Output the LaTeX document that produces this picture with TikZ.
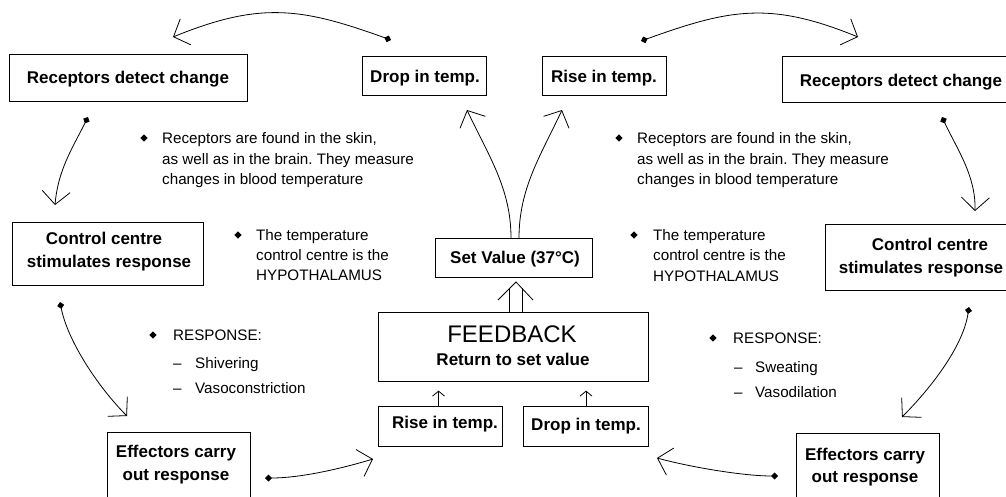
\documentclass[tikz,border=0pt]{standalone}
\usepackage{fontspec}
\setmainfont{Liberation Sans}
\usetikzlibrary{arrows.meta,calc}
\frenchspacing
\begin{document}
\begin{tikzpicture}[x=1pt,y=-1pt,
  box/.style={draw=black, line width=1.1pt, inner sep=0pt, anchor=north west},
  btxt/.style={font=\fontsize{17}{20}\selectfont\bfseries, inner sep=0pt, anchor=base},
  bigtxt/.style={font=\fontsize{24}{28}\selectfont, inner sep=0pt, anchor=base},
  rtxt/.style={font=\fontsize{15.2}{18}\selectfont, inner sep=0pt, anchor=base west},
  bul/.style={fill=black, inner sep=0pt, minimum size=5.2pt, rotate=45},
  conn/.style={line width=0.8pt, {Diamond[length=7pt,width=7pt]}-{Straight Barb[length=13pt,width=28pt]}},
  upconn/.style={line width=0.8pt, -{Straight Barb[length=13pt,width=28pt]}},
  smallarr/.style={line width=0.8pt, -{Straight Barb[length=5pt,width=12pt]}},
  plain/.style={line width=0.8pt}
]
\path[use as bounding box] (0,0) rectangle (1006,496);
\fill[white] (0,0) rectangle (1006,496);
\clip (0,0) rectangle (1006,496);

% ---------- boxes ----------
\node[box, minimum width=238pt, minimum height=47pt] (rec1) at (9,54) {};
\node[box, minimum width=124pt, minimum height=39pt] (drop1) at (362,56) {};
\node[box, minimum width=124pt, minimum height=39pt] (rise1) at (542,56) {};
\node[box, minimum width=240pt, minimum height=46pt] (rec2) at (782,56) {};
\node[box, minimum width=191pt, minimum height=63pt] (ctl1) at (12,222) {};
\node[box, minimum width=200pt, minimum height=66pt] (ctl2) at (825,224) {};
\node[box, minimum width=157pt, minimum height=39pt] (sv) at (435,238) {};
\node[box, minimum width=270pt, minimum height=69pt] (fb) at (378,312) {};
\node[box, minimum width=124pt, minimum height=40pt] (rise2) at (378,406) {};
\node[box, minimum width=125pt, minimum height=40pt] (drop2) at (523,406) {};
\node[box, minimum width=143pt, minimum height=80pt] (eff1) at (107,432) {};
\node[box, minimum width=143pt, minimum height=80pt] (eff2) at (796,433) {};

% ---------- box texts ----------
\node[btxt] (trec1) at (128,83.5) {Receptors detect change};
\node[btxt] (tdrop1) at (425,82) {Drop in temp.};
\node[btxt] (trise1) at (604,82.5) {Rise in temp.};
\node[btxt] (trec2) at (901,86) {Receptors detect change};
\node[btxt] (tctl1a) at (104,244) {Control centre};
\node[btxt] (tctl1b) at (109,267) {stimulates response};
\node[btxt] (tctl2a) at (930,250) {Control centre};
\node[btxt] (tctl2b) at (921,273) {stimulates response};
\node[btxt] (tsv) at (515,263) {Set Value (37°C)};
\node[bigtxt] (tfba) at (512,342) {FEEDBACK};
\node[btxt] (tfbb) at (513,365) {Return to set value};
\node[btxt] (trise2) at (445,428) {Rise in temp.};
\node[btxt] (tdrop2) at (586,430) {Drop in temp.};
\node[btxt] (teff1a) at (176,457) {Effectors carry};
\node[btxt] (teff1b) at (176,480) {out response};
\node[btxt] (teff2a) at (865,460) {Effectors carry};
\node[btxt] (teff2b) at (865,482) {out response};

% ---------- left notes ----------
\node[bul] (bl1) at (144,138) {};
\node[rtxt] (l1a) at (162,143.5) {Receptors are found in the skin,};
\node[rtxt] (l1b) at (162,164) {as well as in the brain. They measure};
\node[rtxt] (l1c) at (162,184.5) {changes in blood temperature};
\node[bul] (bl2) at (238,235) {};
\node[rtxt] (l2a) at (256,240.5) {The temperature};
\node[rtxt] (l2b) at (256,260.5) {control centre is the};
\node[rtxt] (l2c) at (256,280.5) {HYPOTHALAMUS};
\node[bul] (bl3) at (153,335) {};
\node[rtxt] (l3a) at (173,340) {RESPONSE:};
\node[rtxt] (l3b) at (173,368) {\makebox[22pt][l]{–}Shivering};
\node[rtxt] (l3c) at (173,393) {\makebox[22pt][l]{–}Vasoconstriction};

% ---------- right notes ----------
\node[bul] (br1) at (619,138) {};
\node[rtxt] (r1a) at (637,143.5) {Receptors are found in the skin,};
\node[rtxt] (r1b) at (637,164) {as well as in the brain. They measure};
\node[rtxt] (r1c) at (637,184.5) {changes in blood temperature};
\node[bul] (br2) at (634,235) {};
\node[rtxt] (r2a) at (653,240.5) {The temperature};
\node[rtxt] (r2b) at (653,260.5) {control centre is the};
\node[rtxt] (r2c) at (653,281) {HYPOTHALAMUS};
\node[bul] (br3) at (713,338) {};
\node[rtxt] (r3a) at (733,343) {RESPONSE:};
\node[rtxt] (r3b) at (734,372) {\makebox[21pt][l]{–}Sweating};
\node[rtxt] (r3c) at (734,397) {\makebox[21pt][l]{–}Vasodilation};

% ---------- connector end points ----------
\coordinate (s1) at (391,40);  \coordinate (e1) at (173,37);
\coordinate (s2) at (88,117);  \coordinate (e2) at (55,205);
\coordinate (s3) at (60,302);  \coordinate (e3) at (127,416);
\coordinate (s4) at (265,478); \coordinate (e4) at (373,459);
\coordinate (s5) at (778,476); \coordinate (e5) at (657,458);
\coordinate (s6) at (969,307); \coordinate (e6) at (902,417);
\coordinate (s7) at (942,117); \coordinate (e7) at (975,211);
\coordinate (s8) at (641,41);  \coordinate (e8) at (858,37);
\coordinate (s9) at (511,238); \coordinate (e9) at (467,110);
\coordinate (s10) at (519,238); \coordinate (e10) at (562,110);

% ---------- curved connectors ----------
\draw[conn] (s1) .. controls (302,8) and (261,1) .. (e1);
\draw[conn] (s2) .. controls (72,149) and (58,170) .. (e2);
\draw[conn] (s3) .. controls (68,342) and (99,388) .. (e3);
\draw[conn] (s4) .. controls (300,478) and (340,469) .. (e4);
\draw[conn] (s5) .. controls (743,476) and (690,467) .. (e5);
\draw[conn] (s6) .. controls (963,347) and (930,389) .. (e6);
\draw[conn] (s7) .. controls (957,149) and (976,176) .. (e7);
\draw[conn] (s8) .. controls (730,9) and (770,1) .. (e8);
\draw[upconn] (s9) .. controls (511,188) and (488,155) .. (e9);
\draw[upconn] (s10) .. controls (519,188) and (541,155) .. (e10);

% ---------- feedback -> set value (double arrow) ----------
\coordinate (dl0) at (509,312); \coordinate (dl1) at (509,289);
\coordinate (dr0) at (522,312); \coordinate (dr1) at (522,288.4);
\coordinate (dtip) at (516,282);
\coordinate (dbl) at (498,300); \coordinate (dbr) at (533,300);
\draw[plain] (dl0) -- (dl1);
\draw[plain] (dr0) -- (dr1);
\draw[plain] (dbl) -- (dtip) -- (dbr);

% ---------- small arrows into feedback ----------
\draw[smallarr, shorten >=8.5pt] ([xshift=-2pt]rise2.north) -- ([xshift=-2pt]rise2.north |- fb.south);
\draw[smallarr, shorten >=8.5pt] (drop2.north) -- (drop2.north |- fb.south);
\end{tikzpicture}
\end{document}
